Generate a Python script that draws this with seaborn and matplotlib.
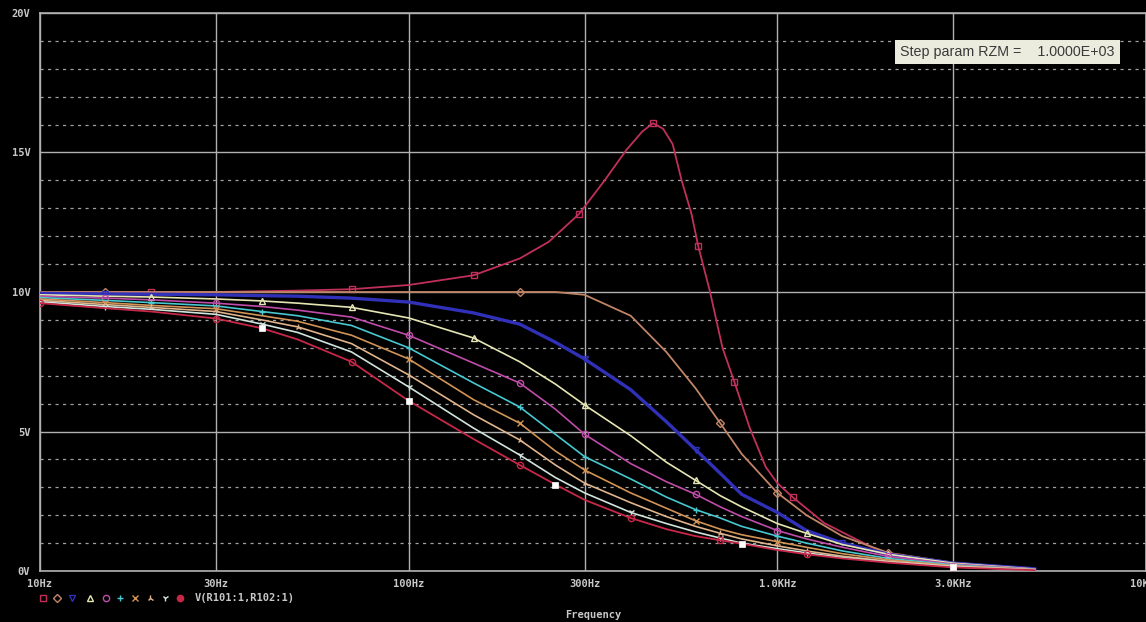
import matplotlib
matplotlib.use("Agg")
import matplotlib.pyplot as plt
import seaborn as sns
from matplotlib.lines import Line2D
from matplotlib.ticker import FixedLocator, MultipleLocator, NullLocator

# frequency grid (Hz) shared by most traces
freq = [10, 15, 20, 30, 40, 50, 70, 100, 150, 200, 250, 300, 400, 500, 600,
        700, 800, 1000, 1200, 1500, 2000, 3000, 5000]

# peaking trace has its own finer grid around the resonance
freq_peak = [10, 20, 30, 50, 70, 100, 150, 200, 240, 290, 340, 390, 430, 460,
             490, 520, 550, 585, 610, 655, 710, 765, 840, 930, 1000, 1100,
             1340, 1800, 2150, 3000, 5000]
v_peak = [10.0, 10.0, 10.0, 10.05, 10.1, 10.25, 10.6, 11.2, 11.8, 12.8, 14.0,
          15.1, 15.75, 16.05, 15.85, 15.3, 14.0, 12.8, 11.65, 10.07, 8.0, 6.77,
          5.16, 3.73, 3.15, 2.65, 1.72, 0.86, 0.5, 0.25, 0.07]

v_tan = [10.0, 10.0, 10.0, 10.0, 10.0, 10.0, 10.0, 10.0, 10.0, 10.0, 10.0, 9.9,
         9.15, 7.85, 6.55, 5.3, 4.2, 2.8, 2.0, 1.25, 0.65, 0.3, 0.08]
v_blue = [9.95, 9.93, 9.92, 9.9, 9.87, 9.85, 9.78, 9.64, 9.25, 8.85, 8.2, 7.6,
          6.5, 5.35, 4.35, 3.5, 2.75, 2.1, 1.45, 1.0, 0.6, 0.28, 0.08]
v_yellow = [9.9, 9.85, 9.82, 9.75, 9.68, 9.6, 9.45, 9.07, 8.35, 7.5, 6.7, 5.95,
            4.85, 3.9, 3.25, 2.7, 2.3, 1.7, 1.35, 0.95, 0.6, 0.28, 0.07]
v_purple = [9.85, 9.78, 9.72, 9.6, 9.48, 9.35, 9.1, 8.45, 7.45, 6.74, 5.8, 4.9,
            3.85, 3.2, 2.75, 2.3, 1.95, 1.45, 1.15, 0.85, 0.52, 0.25, 0.06]
v_cyan = [9.8, 9.7, 9.62, 9.5, 9.3, 9.15, 8.8, 8.0, 6.74, 5.88, 4.9, 4.1, 3.3,
          2.65, 2.2, 1.9, 1.6, 1.25, 1.0, 0.72, 0.45, 0.22, 0.05]
v_orange = [9.75, 9.62, 9.52, 9.4, 9.15, 8.95, 8.45, 7.6, 6.14, 5.3, 4.3, 3.62,
            2.8, 2.25, 1.8, 1.5, 1.3, 1.05, 0.85, 0.62, 0.4, 0.19, 0.05]
v_tan2 = [9.7, 9.55, 9.45, 9.3, 9.0, 8.75, 8.15, 7.03, 5.6, 4.7, 3.8, 3.15,
          2.45, 1.95, 1.6, 1.35, 1.15, 0.9, 0.72, 0.53, 0.35, 0.17, 0.04]
v_grey = [9.65, 9.48, 9.38, 9.2, 8.85, 8.55, 7.85, 6.6, 5.12, 4.16, 3.35, 2.8,
          2.1, 1.7, 1.4, 1.18, 1.0, 0.8, 0.65, 0.48, 0.32, 0.15, 0.04]
v_red = [9.6, 9.42, 9.3, 9.05, 8.7, 8.3, 7.5, 6.1, 4.73, 3.8, 3.1, 2.55, 1.9,
         1.5, 1.25, 1.1, 0.98, 0.75, 0.6, 0.45, 0.3, 0.13, 0.03]

x_ticks = [10, 30, 100, 300, 1000, 3000, 10000]
x_labels = ["10Hz", "30Hz", "100Hz", "300Hz", "1.0KHz", "3.0KHz", "10KHz"]
y_ticks = [0, 5, 10, 15, 20]
y_labels = ["0V", "5V", "10V", "15V", "20V"]
trace_name = "V(R101:1,R102:1)"
step_text = "Step param RZM =    1.0000E+03"

sns.set_style("dark")
plt.rcParams["axes.facecolor"] = "black"
plt.rcParams["figure.facecolor"] = "black"

mono = "DejaVu Sans Mono"
txt_col = "#c8c8c8"
grid_col = "#b0b0b0"

fig = plt.figure(figsize=(11.46, 6.22), dpi=100, facecolor="black")
ax = fig.add_axes([40 / 1146, 51 / 622, 1106 / 1146, 558 / 622])
ax.set_facecolor("black")

# (x, y, colour, marker, marker positions, linewidth)
traces = [
    (freq_peak, v_peak, "#c0305a", "s", [1, 4, 6, 9, 13, 18, 21, 25, 28], 1.3),
    (freq, v_tan, "#c08466", "D", [1, 9, 15, 17, 20], 1.3),
    (freq, v_blue, "#3030b8", "v", [1, 11, 14, 19], 2.4),
    (freq, v_yellow, "#e6e6b4", "^", [2, 4, 6, 8, 11, 14, 18, 20], 1.2),
    (freq, v_purple, "#c04caa", "o", [1, 3, 7, 9, 11, 14, 17, 20], 1.2),
    (freq, v_cyan, "#48c8d0", "+", [2, 4, 7, 9, 11, 14, 17, 21], 1.2),
    (freq, v_orange, "#d29456", "x", [1, 3, 7, 9, 11, 14, 17, 21], 1.2),
    (freq, v_tan2, "#e0b48c", "2", [2, 5, 7, 9, 11, 15, 18, 21], 1.2),
    (freq, v_grey, "#d0e4dc", "1", [1, 4, 7, 9, 12, 15, 18, 21], 1.2),
    (freq, v_red, "#c82848", "o", [0, 3, 6, 9, 12, 15, 18, 21], 1.3),
]

for xs, ys, col, mk, every, lw in traces:
    sns.lineplot(x=xs, y=ys, ax=ax, color=col, lw=lw, marker=mk,
                 markevery=every, ms=4.5, mfc="none", mec=col, mew=1.0,
                 zorder=3)

# white square cursor marks along the lowest trace
sns.lineplot(x=freq, y=v_red, ax=ax, color="white", lw=0, marker="s",
             markevery=[4, 7, 10, 16, 21], ms=4.5, mfc="white", mec="white",
             mew=0.5, zorder=4)

ax.set_xscale("log")
ax.set_xlim(10, 10000)
ax.set_ylim(0, 20)

ax.xaxis.set_major_locator(FixedLocator(x_ticks))
ax.xaxis.set_minor_locator(NullLocator())
ax.set_xticklabels(x_labels)
ax.set_yticks(y_ticks)
ax.set_yticklabels(y_labels)
ax.yaxis.set_minor_locator(MultipleLocator(1))

ax.grid(True, which="major", color=grid_col, lw=1.0, ls="-")
ax.grid(True, which="minor", axis="y", color="#a0a0a0", lw=0.9,
        ls=(0, (2.5, 3.5)))
ax.set_axisbelow(True)

ax.tick_params(which="both", length=0)
ax.tick_params(axis="x", pad=6)
ax.tick_params(axis="y", pad=7)
for lab in ax.get_xticklabels() + ax.get_yticklabels():
    lab.set_fontfamily(mono)
    lab.set_fontweight("bold")
    lab.set_fontsize(7.5)
    lab.set_color(txt_col)

for side in ["left", "bottom", "top", "right"]:
    ax.spines[side].set_color(grid_col)
    ax.spines[side].set_linewidth(1.2)

ax.set_xlabel("Frequency", fontfamily=mono, fontweight="bold", fontsize=7.5,
              color=txt_col, labelpad=15)
ax.set_ylabel("")

# trace symbol row below the axis
sym_y = 1 - 598 / 622
sym_x = [43, 57, 72, 90, 106, 120, 135, 150, 165, 180]
for (xs, ys, col, mk, every, lw), sx in zip(traces, sym_x):
    filled = col == "#c82848"
    fig.add_artist(Line2D([sx / 1146], [sym_y], marker=mk,
                          transform=fig.transFigure, ms=4.5, mew=1.0,
                          mec=col, mfc=col if filled else "none",
                          color=col, lw=0))
fig.text(195 / 1146, sym_y, trace_name, fontfamily=mono,
         fontweight="bold", fontsize=7.5, color=txt_col, va="center")

# step parameter box
fig.text(900 / 1146, 1 - 52 / 622, step_text, fontfamily="Liberation Sans",
         fontsize=10.3, color="#3a3a3a", va="center",
         bbox=dict(facecolor="#ececde", edgecolor="none",
                   boxstyle="square,pad=0.35"))

fig.savefig("out.png", dpi=100, facecolor="black")
